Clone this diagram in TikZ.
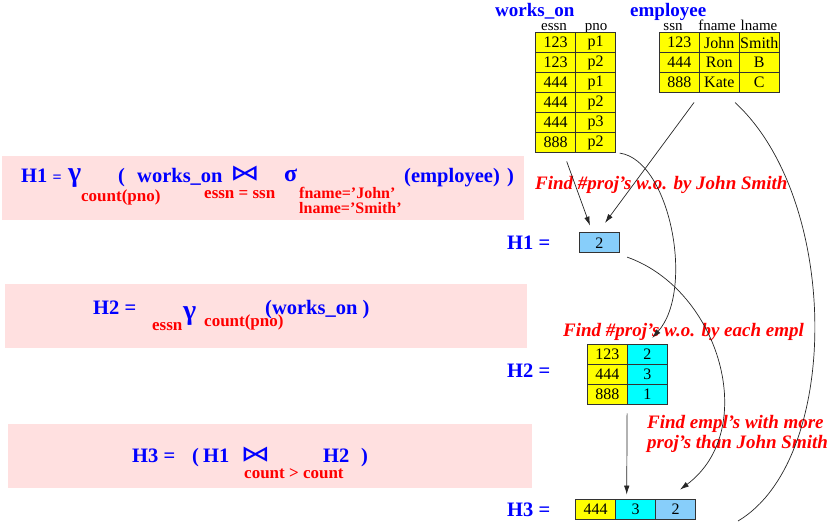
\documentclass[tikz,border=0pt]{standalone}
\usepackage{fontspec}
\usepackage{graphicx}
\setmainfont{Liberation Serif}
\newfontfamily\djv{DejaVu Sans}
\usetikzlibrary{arrows.meta,calc}
\definecolor{pinkbg}{RGB}{255,224,224}
\definecolor{ltblue}{RGB}{135,206,250}
\definecolor{myyellow}{RGB}{255,255,0}
\definecolor{mycyan}{RGB}{0,255,255}
\definecolor{myblue}{RGB}{0,0,255}
\definecolor{myred}{RGB}{255,0,0}
\newcommand{\bowsym}{\scalebox{1.35}[1]{⋈}}
\begin{document}
\begin{tikzpicture}[x=1pt,y=-1pt,
  cell/.style={draw=black!80, line width=0.8pt, minimum width=40pt, minimum height=20pt, inner sep=0pt, font=\fontsize{16}{16}\selectfont},
  yc/.style={cell, fill=myyellow},
  cc/.style={cell, fill=mycyan},
  bc/.style={cell, fill=ltblue},
  title/.style={text=myblue, font=\fontsize{19}{19}\selectfont\bfseries, inner sep=0pt, anchor=base west},
  hdr/.style={font=\fontsize{15}{15}\selectfont, inner sep=0pt, anchor=base},
  lbl/.style={text=myblue, font=\fontsize{20.5}{20.5}\selectfont\bfseries, inner sep=0pt, anchor=base west},
  greek/.style={text=myblue, font=\fontsize{28}{28}\selectfont\bfseries, inner sep=0pt, anchor=base west},
  bowtie/.style={text=myblue, font=\djv\fontsize{22}{22}\selectfont, inner sep=0pt},
  sub/.style={text=myred, font=\fontsize{17}{17}\selectfont\bfseries, inner sep=0pt, anchor=base west},
  note/.style={text=myred, font=\fontsize{19}{20}\selectfont\bfseries\itshape, inner sep=0pt, anchor=base west, align=left},
  formula/.style={fill=pinkbg, draw=none, inner sep=0pt, anchor=north west},
  conn/.style={draw=black!85, line width=0.7pt},
  arr/.style={conn, -{Latex[length=9pt,width=5.5pt]}}
]
\useasboundingbox (0,0) rectangle (832,523);

% formula backgrounds
\node[formula, minimum width=522pt, minimum height=64pt] (f1) at (2,156) {};
\node[formula, minimum width=522pt, minimum height=64pt] (f2) at (5,284) {};
\node[formula, minimum width=524pt, minimum height=64pt] (f3) at (8,424) {};

% titles and headers
\node[title] (twork) at (495,16) {works\_on};
\node[title] (temp) at (630,16) {employee};
\node[hdr] (hessn) at (554,30.5) {essn};
\node[hdr] (hpno) at (596,30.5) {pno};
\node[hdr] (hssn) at (673,30.5) {ssn};
\node[hdr] (hfname) at (717,30.5) {fname};
\node[hdr] (hlname) at (759,30.5) {lname};

% works_on table
\foreach \r/\a/\b in {1/123/p1,2/123/p2,3/444/p1,4/444/p2,5/444/p3,6/888/p2}{
  \node[yc] (w\r1) at (555.7,{22.7+20*\r}) {\a};
  \node[yc] (w\r2) at (595.7,{22.7+20*\r}) {\b};
}
% employee table
\foreach \r/\a/\b/\c in {1/123/John/Smith,2/444/Ron/B,3/888/Kate/C}{
  \node[yc] (e\r1) at (679.3,{22.7+20*\r}) {\a};
  \node[yc] (e\r2) at (719.3,{22.7+20*\r}) {\b};
  \node[yc] (e\r3) at (759.3,{22.7+20*\r}) {\c};
}

% H1 result
\node[bc] (h1) at (599.3,242.7) {2};
% H2 result
\foreach \r/\a/\b in {1/123/2,2/444/3,3/888/1}{
  \node[yc] (g\r1) at (607.3,{334.3+20*\r}) {\a};
  \node[cc] (g\r2) at (647.3,{334.3+20*\r}) {\b};
}
% H3 result
\node[yc] (k1) at (595.7,509.3) {444};
\node[cc] (k2) at (635.7,509.3) {3};
\node[bc] (k3) at (675.7,509.3) {2};

% right-hand labels
\node[lbl] (lh1) at (507,249.3) {H1 =};
\node[lbl] (lh2) at (507,377.3) {H2 =};
\node[lbl] (lh3) at (507,516.7) {H3 =};

% notes
\node[note] (n1) at (535,189.3) {Find \#proj's w.o. by John Smith};
\node[note] (n2) at (563,336.7) {Find \#proj's w.o. by each empl};
\node[note] (n3) at (647,448.3) {Find empl's with more\\proj's than John Smith};

% formula 1
\node[lbl] (a1) at (21,182) {H1 {\fontsize{16}{16}\selectfont=}};
\node[greek] (a2) at (68,181) {γ};
\node[sub] (a3) at (81,201) {count(pno)};
\node[lbl] (a4) at (118,182) {(};
\node[lbl] (a5) at (137,182) {works\_on};
\node[bowtie] (a6) at (245,173.5) {\bowsym};
\node[sub] (a7) at (204,198) {essn = ssn};
\node[greek, font=\fontsize{24}{24}\selectfont\bfseries] (a8) at (284,181) {σ};
\node[sub, font=\fontsize{16}{15.5}\selectfont\bfseries, align=left, anchor=north west] (a9) at (299,187) {fname='John'\\lname='Smith'};
\node[lbl] (a11) at (404,182) {(employee)};
\node[lbl] (a12) at (507,182) {)};

% formula 2
\node[lbl] (b1) at (93,314.5) {H2 =};
\node[sub] (b2) at (152,330.7) {essn};
\node[greek] (b3) at (183,319) {γ};
\node[sub] (b4) at (204,326.5) {count(pno)};
\node[lbl] (b5) at (265,314.5) {(works\_on )};

% formula 3
\node[lbl] (c1) at (132,462.3) {H3 =};
\node[lbl] (c2) at (192,462.3) {(};
\node[lbl] (c3) at (203,462.3) {H1};
\node[bowtie] (c4) at (255.5,455) {\bowsym};
\node[lbl] (c5) at (323,462.3) {H2};
\node[lbl] (c6) at (361,462.3) {)};
\node[sub] (c7) at (244,478.4) {count > count};

% connectors
\coordinate (eend) at (738,521);
\draw[arr] ($(w61.south)+(11,8.4)$) -- ($(h1.north)+(-9.3,-6.7)$);
\draw[arr] ($(e31.south)+(14.7,9.4)$) -- ($(h1.north)+(5.7,-9.4)$);
\draw[arr] ($(w62.south east)+(3.6,0)$) .. controls (670,160) and (695,290) .. ($(g12.north)+(5,-6)$);
\draw[arr] ($(h1.south east)+(7.4,4)$) .. controls (720,290) and (760,430) .. ($(k3.north)+(4.3,-9.3)$);
\draw[conn] ($(e33.south)+(-24.3,9.4)$) .. controls (841,200) and (841,460) .. (eend);
\draw[arr] ($(g31.south east)+(-0.6,8.7)$) -- ($(k2.north)+(-9,-4.3)$);
\end{tikzpicture}
\end{document}
